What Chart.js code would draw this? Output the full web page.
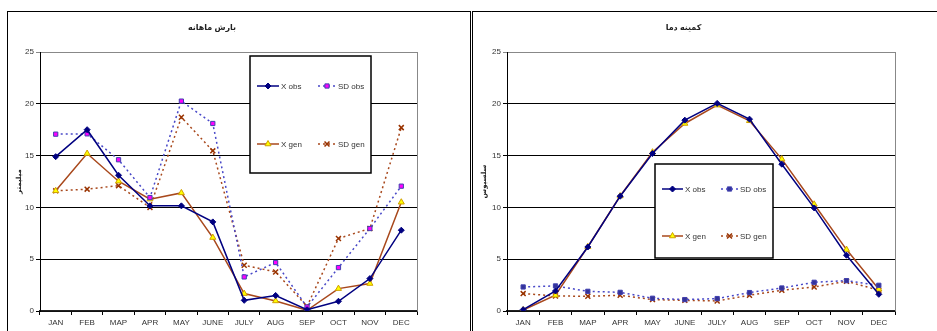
<!DOCTYPE html>
<html>
<head>
<meta charset="utf-8">
<script src="https://cdn.jsdelivr.net/npm/chart.js@4/dist/chart.umd.min.js"></script>
<style>
  body { margin: 0; background: #fff; width: 937px; height: 331px; overflow: hidden; position: relative; }
  .wrap { position: absolute; }
  .frame { position: absolute; border: 1.5px solid #000; box-sizing: border-box; pointer-events: none; }
</style>
</head>
<body>
<div class="wrap" style="left:7px;top:11px;width:463px;height:320px"><canvas id="rainChart"></canvas></div>
<div class="wrap" style="left:472px;top:11px;width:465px;height:320px"><canvas id="tminChart"></canvas></div>
<div class="frame" style="left:7px;top:11px;width:464px;height:340px"></div>
<div class="frame" style="left:472px;top:11px;width:480px;height:340px"></div>
<script>
const months = ["JAN", "FEB", "MAP", "APR", "MAY", "JUNE", "JULY", "AUG", "SEP", "OCT", "NOV", "DEC"];
const seriesNames = ["X obs", "SD obs", "X gen", "SD gen"];
const yTicks = [0, 5, 10, 15, 20, 25];

// precipitation (left)
const rainXobs = [14.9, 17.5, 13.1, 10.15, 10.15, 8.6, 1.03, 1.5, 0.13, 0.94, 3.13, 7.8];
const rainSDobs = [17.07, 17.1, 14.6, 10.95, 20.26, 18.1, 3.29, 4.68, 0.39, 4.19, 7.96, 12.05];
const rainXgen = [11.6, 15.2, 12.53, 10.8, 11.4, 7.09, 1.68, 0.97, 0.07, 2.16, 2.65, 10.5];
const rainSDgen = [11.6, 11.76, 12.1, 10.0, 18.7, 15.46, 4.42, 3.77, 0.45, 7.0, 7.96, 17.7];

// minimum temperature (right)
const tminXobs = [0.13, 1.93, 6.18, 11.08, 15.2, 18.42, 20.04, 18.52, 14.17, 9.95, 5.38, 1.61];
const tminSDobs = [2.32, 2.42, 1.9, 1.8, 1.23, 1.1, 1.2, 1.78, 2.22, 2.77, 2.93, 2.48];
const tminXgen = [0.1, 1.52, 6.2, 11.1, 15.33, 18.1, 19.87, 18.36, 14.66, 10.3, 5.93, 2.1];
const tminSDgen = [1.68, 1.45, 1.42, 1.52, 1.1, 1.03, 0.97, 1.52, 2.0, 2.32, 2.87, 2.0];

const FONT = "'Liberation Sans', Arial, 'DejaVu Sans', sans-serif";

// legend drawn as a boxed panel inside the plot, like the spreadsheet original
const boxLegend = {
  id: "boxLegend",
  afterDatasetsDraw(chart, args, opts) {
    const ctx = chart.ctx;
    const [bx, by, bw, bh] = opts.box;
    ctx.save();
    ctx.fillStyle = "#fff";
    ctx.fillRect(bx, by, bw, bh);
    ctx.strokeStyle = "#000";
    ctx.lineWidth = 1.5;
    ctx.strokeRect(bx, by, bw, bh);
    chart.data.datasets.forEach((ds, i) => {
      const [x, y, w] = opts.items[i];
      ctx.strokeStyle = ds.borderColor;
      ctx.lineWidth = ds.borderWidth;
      ctx.setLineDash(ds.borderDash || []);
      ctx.beginPath();
      ctx.moveTo(x, y);
      ctx.lineTo(x + w, y);
      ctx.stroke();
      ctx.setLineDash([]);
      ctx.fillStyle = ds.pointBackgroundColor;
      ctx.strokeStyle = ds.pointBorderColor;
      ctx.lineWidth = ds.pointBorderWidth;
      Chart.helpers.drawPoint(ctx, { pointStyle: ds.pointStyle, radius: ds.pointRadius, borderWidth: ds.pointBorderWidth, rotation: 0 }, x + w / 2, y);
      ctx.fillStyle = "#333";
      ctx.font = "8px " + FONT;
      ctx.textBaseline = "middle";
      ctx.fillText(ds.label, x + w + 2, y + 0.5);
    });
    ctx.restore();
  }
};

// gray plot-area border on the right side
const plotBorder = {
  id: "plotBorder",
  beforeDatasetsDraw(chart) {
    const a = chart.chartArea, ctx = chart.ctx;
    ctx.save();
    ctx.strokeStyle = "#888";
    ctx.lineWidth = 1;
    ctx.beginPath();
    ctx.moveTo(a.right + 0.5, a.top);
    ctx.lineTo(a.right + 0.5, a.bottom);
    ctx.stroke();
    ctx.restore();
  }
};

function makeSets(xobs, sdobs, xgen, sdgen, sdObsFill) {
  return [
    { label: seriesNames[0], data: xobs, borderColor: "#000080", borderWidth: 1.5,
      pointStyle: "rectRot", pointRadius: 3, pointBackgroundColor: "#000080", pointBorderColor: "#000080", pointBorderWidth: 1 },
    { label: seriesNames[1], data: sdobs, borderColor: "#4848c8", borderWidth: 1.5, borderDash: [2, 3],
      pointStyle: "rect", pointRadius: 3, pointBackgroundColor: sdObsFill, pointBorderColor: "#4040b0", pointBorderWidth: 1 },
    { label: seriesNames[2], data: xgen, borderColor: "#a8481c", borderWidth: 1.5,
      pointStyle: "triangle", pointRadius: 3.5, pointBackgroundColor: "#ffff00", pointBorderColor: "#d0a000", pointBorderWidth: 1 },
    { label: seriesNames[3], data: sdgen, borderColor: "#a8481c", borderWidth: 1.5, borderDash: [2, 3],
      pointStyle: "crossRot", pointRadius: 3.5, pointBackgroundColor: "#a8481c", pointBorderColor: "#993300", pointBorderWidth: 1.5 }
  ];
}

function makeChart(id, title, yTitle, sets, yWidth, rightPad, titlePad, legend) {
  return new Chart(document.getElementById(id), {
    type: "line",
    data: { labels: months, datasets: sets },
    plugins: [plotBorder, boxLegend],
    options: {
      responsive: true,
      maintainAspectRatio: false,
      animation: false,
      layout: { padding: { top: 0, left: 0, right: rightPad, bottom: 0 } },
      elements: { line: { tension: 0, fill: false } },
      plugins: {
        legend: { display: false },
        tooltip: { enabled: false },
        title: {
          display: true, text: title, color: "#222",
          font: { family: FONT, size: 8, weight: "bold" },
          padding: titlePad
        },
        boxLegend: legend
      },
      scales: {
        x: {
          offset: true,
          afterFit: s => { s.height = 20; },
          grid: { offset: true, drawOnChartArea: false, drawTicks: true, tickLength: 4, color: "#000" },
          border: { color: "#222", width: 1.5 },
          ticks: { color: "#333", padding: 3, font: { family: FONT, size: 8 }, maxRotation: 0, autoSkip: false }
        },
        y: {
          min: 0, max: 25,
          afterFit: s => { s.width = yWidth; },
          afterBuildTicks: s => { s.ticks = yTicks.map(v => ({ value: v })); },
          grid: { color: c => (c.tick && c.tick.value === 25 ? "#888" : "#000"), tickLength: 4 },
          border: { color: "#000", width: 1 },
          ticks: { color: "#333", padding: 2, font: { family: FONT, size: 8 } },
          title: { display: true, text: yTitle, color: "#222", padding: { top: 8, bottom: 0 },
                   font: { family: FONT, size: 7, weight: "bold" } }
        }
      }
    }
  });
}

makeChart("rainChart", "بارش ماهانه", "میلیمتر",
  makeSets(rainXobs, rainSDobs, rainXgen, rainSDgen, "#ff00ff"),
  33, 53, { top: 12, bottom: 19.4 },
  { box: [243, 45, 121, 117], items: [[250, 75, 22], [311, 75, 18], [250, 133, 22], [311, 133, 18]] });

makeChart("tminChart", "کمینه دما", "سلسیوس",
  makeSets(tminXobs, tminSDobs, tminXgen, tminSDgen, "#333399"),
  35, 42, { top: 12, bottom: 19.4 },
  { box: [183, 153, 118, 94], items: [[190, 178, 21], [249, 178, 17], [190, 225, 21], [249, 225, 17]] });
</script>
</body>
</html>
